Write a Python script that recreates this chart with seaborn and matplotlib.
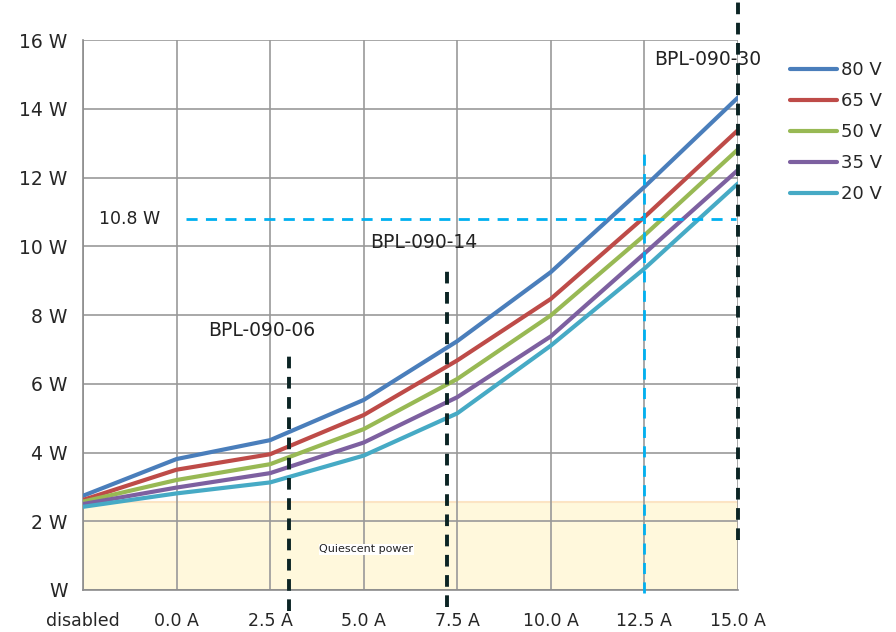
import pandas as pd
import matplotlib.pyplot as plt
import seaborn as sns

# %% dados
categorias = ['disabled', '0.0 A', '2.5 A', '5.0 A', '7.5 A', '10.0 A', '12.5 A', '15.0 A']
tensoes = ['80 V', '65 V', '50 V', '35 V', '20 V']
p_80v = [2.74, 3.81, 4.36, 5.53, 7.24, 9.25, 11.73, 14.33]
p_65v = [2.62, 3.50, 3.95, 5.09, 6.68, 8.47, 10.85, 13.38]
p_50v = [2.57, 3.20, 3.66, 4.68, 6.14, 7.99, 10.32, 12.82]
p_35v = [2.50, 2.98, 3.40, 4.29, 5.61, 7.38, 9.79, 12.22]
p_20v = [2.42, 2.81, 3.13, 3.91, 5.14, 7.11, 9.35, 11.83]
cores = ['#4A7EBB', '#BE4B48', '#98B954', '#7D60A0', '#46AAC5']

potencia_quiescente = 2.55
limite_w = 10.8
modelos = ['BPL-090-06', 'BPL-090-14', 'BPL-090-30']
modelos_pos = [2.2, 3.89, 7.0]
modelos_topo = [6.95, 9.3, 17.1]
modelos_base = [-0.6, -0.5, 1.45]

# %% tabela longa para o seaborn
linhas = []
for v, valores in zip(tensoes, [p_80v, p_65v, p_50v, p_35v, p_20v]):
    for i, p in enumerate(valores):
        linhas.append({'pos': i, 'potencia': p, 'tensao': v})
df = pd.DataFrame(linhas)

# %%
sns.set_style('white')
plt.rcParams['font.family'] = ['DejaVu Sans']

fig = plt.figure(figsize=(8.96, 6.32), dpi=100)
ax = fig.add_axes([0.0926, 0.0665, 0.731, 0.870])

# faixa de potencia quiescente
ax.axhspan(0, potencia_quiescente, facecolor='#FFF8DC', edgecolor='#FCE4C4', linewidth=1.5, zorder=0)
ax.text(3.03, 1.18, 'Quiescent power', fontsize=8, color='#222222', ha='center', va='center',
        bbox=dict(facecolor='white', edgecolor='none', pad=0.5), zorder=3)

sns.lineplot(data=df, x='pos', y='potencia', hue='tensao', hue_order=tensoes,
             palette=cores, linewidth=3.0, ax=ax, zorder=4)

# linha de 10.8 W e 12.5 A
ax.plot([1.1, 6.98], [limite_w, limite_w], color='#00B0F0', linestyle=(0, (4, 3)), linewidth=2, zorder=5)
ax.text(0.17, limite_w, '10.8 W', fontsize=12.5, color='#222222', va='center')
ax.plot([6, 6], [-0.1, 12.8], color='#00B0F0', linestyle=(0, (4, 3)), linewidth=2, zorder=5, clip_on=False)

# modelos
for nome, xp, topo, base in zip(modelos, modelos_pos, modelos_topo, modelos_base):
    ax.plot([xp, xp], [base, topo], color='#0B2424', linestyle=(0, (3, 2.2)),
            linewidth=2.8, zorder=6, clip_on=False)
ax.text(1.34, 7.55, 'BPL-090-06', fontsize=13.5, color='#222222', va='center')
ax.text(3.07, 10.1, 'BPL-090-14', fontsize=13.5, color='#222222', va='center')
ax.text(6.1, 15.45, 'BPL-090-30', fontsize=13.5, color='#222222', va='center')

ax.set_xlim(0, 7)
ax.set_ylim(0, 16)
ax.set_xticks(range(len(categorias)))
ax.set_xticklabels(categorias, fontsize=12.5)
ax.set_yticks(range(0, 17, 2))
ax.set_yticklabels(['W'] + [f'{v} W' for v in range(2, 17, 2)], fontsize=13.5)
ax.tick_params(axis='both', length=6, width=1, color='#8c8c8c', direction='out', pad=5)
ax.tick_params(axis='x', pad=10)
ax.grid(True, color='#999999', linewidth=1.2)
ax.set_axisbelow(True)
for lado in ['top', 'right']:
    ax.spines[lado].set_visible(False)
for lado in ['left', 'bottom']:
    ax.spines[lado].set_color('#8c8c8c')
    ax.spines[lado].set_linewidth(1.2)
ax.set_xlabel('')
ax.set_ylabel('')

ax.legend(loc='upper left', bbox_to_anchor=(1.069, 0.975), frameon=False, fontsize=13,
          handlelength=2.6, handletextpad=0.2, labelspacing=0.72, borderaxespad=0)

plt.savefig('out.png', dpi=100)
